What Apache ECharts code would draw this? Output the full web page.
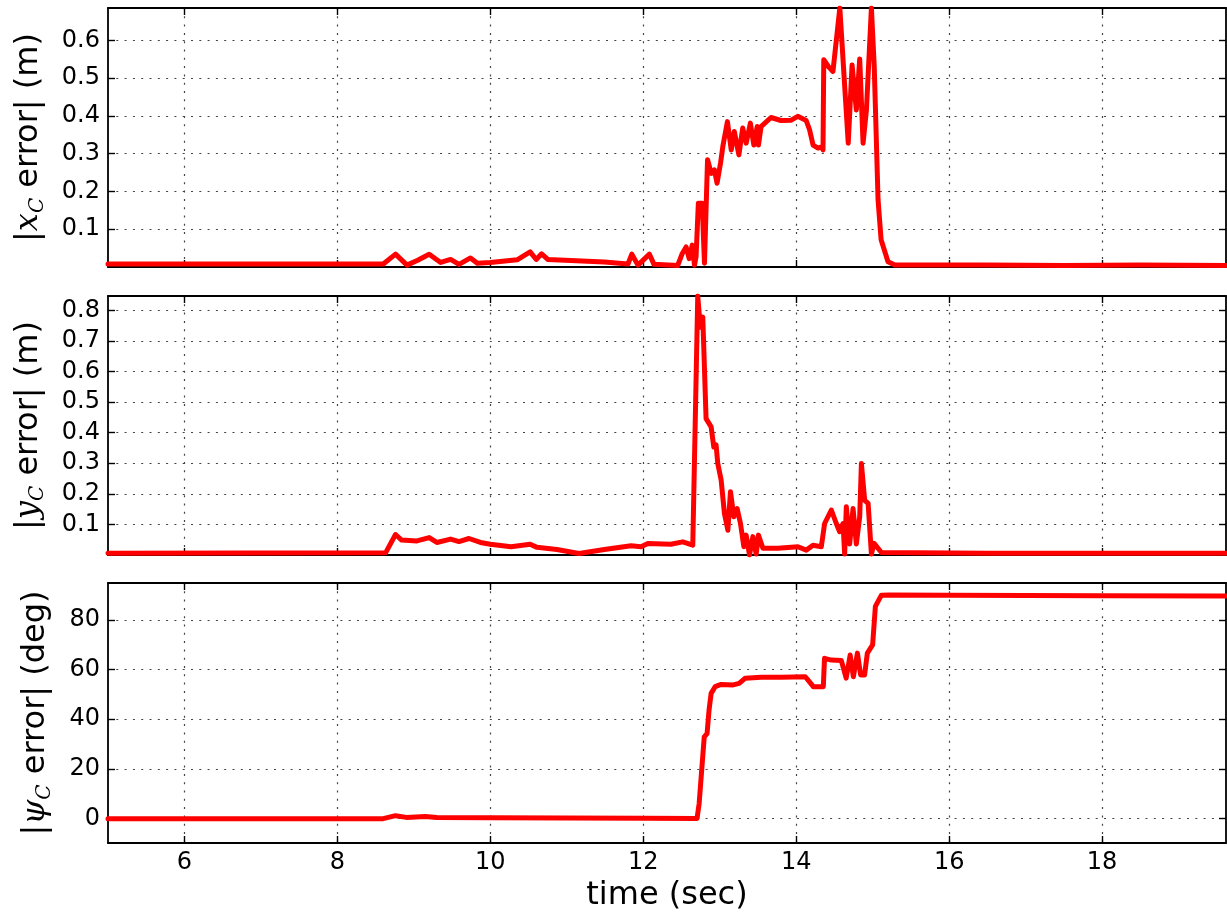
<!DOCTYPE html>
<html><head><meta charset="utf-8">
<script src="https://cdn.jsdelivr.net/npm/echarts@6/dist/echarts.min.js"></script>
<style>html,body{margin:0;padding:0;background:#fff}#c{width:1227px;height:918px}</style>
</head><body><div id="c"></div>
<script>
// ---- data ----
const tX = [5.0, 8.6, 8.76, 8.91, 9.05, 9.2, 9.35, 9.48, 9.59, 9.74, 9.83, 10.0, 10.35, 10.52, 10.6, 10.67, 10.75, 11.05, 11.49, 11.8, 11.85, 11.93, 12.08, 12.14, 12.45, 12.51, 12.56, 12.6, 12.64, 12.67, 12.69, 12.72, 12.77, 12.8, 12.84, 12.89, 12.93, 12.965, 13.01, 13.04, 13.1, 13.15, 13.19, 13.25, 13.3, 13.345, 13.4, 13.446, 13.49, 13.506, 13.54, 13.67, 13.8, 13.935, 14.02, 14.13, 14.175, 14.22, 14.285, 14.33, 14.35, 14.36, 14.42, 14.48, 14.57, 14.68, 14.73, 14.786, 14.83, 14.874, 14.918, 14.983, 15.02, 15.07, 15.11, 15.2, 15.29, 16.5, 17.5, 18.5, 19.62];
const xErr = [0.008, 0.008, 0.034, 0.005, 0.018, 0.034, 0.012, 0.02, 0.007, 0.024, 0.01, 0.012, 0.019, 0.04, 0.02, 0.035, 0.02, 0.017, 0.013, 0.008, 0.034, 0.005, 0.034, 0.007, 0.004, 0.036, 0.053, 0.022, 0.058, 0.005, 0.027, 0.169, 0.169, 0.01, 0.284, 0.248, 0.257, 0.222, 0.275, 0.319, 0.385, 0.31, 0.359, 0.297, 0.368, 0.328, 0.381, 0.323, 0.372, 0.323, 0.372, 0.396, 0.388, 0.389, 0.399, 0.388, 0.363, 0.323, 0.315, 0.318, 0.31, 0.549, 0.531, 0.518, 0.686, 0.328, 0.535, 0.416, 0.551, 0.328, 0.416, 0.686, 0.531, 0.178, 0.072, 0.014, 0.005, 0.005, 0.004, 0.005, 0.004];

const tY = [5.0, 8.63, 8.76, 8.84, 9.04, 9.2, 9.3, 9.48, 9.59, 9.72, 9.87, 10.0, 10.27, 10.52, 10.61, 10.87, 11.16, 11.49, 11.84, 11.97, 12.06, 12.36, 12.516, 12.647, 12.712, 12.746, 12.778, 12.821, 12.887, 12.922, 12.952, 12.974, 13.018, 13.061, 13.106, 13.14, 13.184, 13.227, 13.271, 13.315, 13.345, 13.389, 13.433, 13.476, 13.506, 13.564, 13.76, 14.022, 14.131, 14.219, 14.328, 14.371, 14.459, 14.524, 14.568, 14.612, 14.633, 14.655, 14.699, 14.743, 14.786, 14.83, 14.852, 14.895, 14.94, 14.983, 15.018, 15.114, 16.5, 18.0, 19.62];
const yErr = [0.006, 0.007, 0.067, 0.049, 0.046, 0.057, 0.041, 0.052, 0.044, 0.054, 0.041, 0.035, 0.027, 0.035, 0.025, 0.018, 0.005, 0.018, 0.03, 0.027, 0.038, 0.035, 0.043, 0.032, 0.847, 0.745, 0.778, 0.446, 0.419, 0.353, 0.36, 0.299, 0.245, 0.136, 0.081, 0.207, 0.125, 0.152, 0.103, 0.027, 0.065, 0.0, 0.06, 0.003, 0.065, 0.022, 0.022, 0.027, 0.016, 0.032, 0.027, 0.103, 0.147, 0.103, 0.076, 0.103, 0.003, 0.158, 0.036, 0.152, 0.036, 0.125, 0.299, 0.179, 0.169, 0.003, 0.038, 0.008, 0.006, 0.006, 0.006];

const tPsi = [5.0, 8.6, 8.76, 8.9, 9.15, 9.3, 10.0, 11.0, 12.0, 12.703, 12.73, 12.797, 12.834, 12.86, 12.887, 12.939, 13.018, 13.175, 13.254, 13.333, 13.542, 13.804, 14.118, 14.171, 14.223, 14.354, 14.37, 14.459, 14.59, 14.653, 14.705, 14.747, 14.8, 14.842, 14.894, 14.93, 14.999, 15.035, 15.114, 15.218, 16.0, 17.0, 18.0, 19.62];
const psiErr = [0.0, 0.0, 1.2, 0.5, 0.9, 0.5, 0.4, 0.3, 0.2, 0.1, 6.0, 32.9, 34.2, 43.7, 50.4, 53.1, 54.0, 53.8, 54.4, 56.5, 56.9, 56.9, 57.1, 55.1, 53.1, 53.1, 64.5, 63.8, 63.6, 56.5, 65.8, 57.1, 66.6, 57.8, 57.8, 66.6, 69.9, 85.4, 89.9, 90.0, 89.9, 89.8, 89.7, 89.6];

const timeTicks = [6, 8, 10, 12, 14, 16, 18];
const xErrTicks = [0.1, 0.2, 0.3, 0.4, 0.5, 0.6];
const yErrTicks = [0.1, 0.2, 0.3, 0.4, 0.5, 0.6, 0.7, 0.8];
const psiTicks = [0, 20, 40, 60, 80];
const timeName = 'time (sec)';
const yNames = ['{n||}{m|x}{s|C}{n| error| (m)}', '{n||}{m|y}{s|C}{n| error| (m)}', '{n||}{m|ψ}{s|C}{n| error| (deg)}'];

// ---- layout ----
const FONT = 'DejaVu Sans';
const grids = [
  {left: 108, top: 8, width: 1118, height: 259},
  {left: 108, top: 296, width: 1118, height: 259},
  {left: 108, top: 583, width: 1118, height: 260}
];
const yRanges = [[0, 0.686, xErrTicks, 1], [0, 0.847, yErrTicks, 1], [-9.8, 94.8, psiTicks, 0]];
const nameGaps = [60, 60, 53];
const frame = {show: true, onZero: false, lineStyle: {color: '#000', width: 1.8}};
const tick = (vals) => ({show: true, inside: true, length: 7, customValues: vals, lineStyle: {color: '#000', width: 1.4}});
const split = {show: true, lineStyle: {color: '#444', width: 1.2, type: [2, 6.3]}};
const rich = {
  n: {fontFamily: FONT, fontSize: 32, color: '#000', lineHeight: 38, verticalAlign: 'middle'},
  m: {fontFamily: 'DejaVu Serif', fontStyle: 'italic', fontSize: 32, color: '#000', lineHeight: 38, verticalAlign: 'middle'},
  s: {fontFamily: 'DejaVu Serif', fontStyle: 'italic', fontSize: 20, color: '#000', lineHeight: 20, verticalAlign: 'bottom'}
};

const xAxis = [], yAxis = [], series = [];
const sets = [[tX, xErr], [tY, yErr], [tPsi, psiErr]];
grids.forEach((g, i) => {
  const last = i === 2;
  xAxis.push({type: 'value', gridIndex: i, min: 5, max: 19.62, position: 'bottom',
    axisLine: frame, axisTick: tick(timeTicks), splitLine: split,
    axisLabel: {show: last, customValues: timeTicks, fontFamily: FONT, fontSize: 24, color: '#000', margin: 8},
    name: last ? timeName : '', nameLocation: 'middle', nameGap: 37,
    nameTextStyle: {fontFamily: FONT, fontSize: 32, color: '#000'}});
  xAxis.push({type: 'value', gridIndex: i, min: 5, max: 19.62, position: 'top',
    axisLine: frame, axisTick: tick(timeTicks), splitLine: {show: false}, axisLabel: {show: false}});
  const [mn, mx, tv, dec] = yRanges[i];
  yAxis.push({type: 'value', gridIndex: i, min: mn, max: mx, position: 'left',
    axisLine: frame, axisTick: tick(tv), splitLine: split,
    axisLabel: {customValues: tv, fontFamily: FONT, fontSize: 24, color: '#000', margin: 8,
      formatter: v => v.toFixed(dec)},
    name: yNames[i], nameLocation: 'middle', nameGap: nameGaps[i],
    nameTextStyle: {fontFamily: FONT, fontSize: 32, color: '#000', rich: rich}});
  yAxis.push({type: 'value', gridIndex: i, min: mn, max: mx, position: 'right',
    axisLine: frame, axisTick: tick(tv), splitLine: {show: false}, axisLabel: {show: false}});
  const [ts, vs] = sets[i];
  series.push({type: 'line', xAxisIndex: 2 * i, yAxisIndex: 2 * i, data: ts.map((t, k) => [t, vs[k]]),
    showSymbol: false, symbol: 'none', clip: true,
    lineStyle: {color: '#ff0000', width: 5, join: 'round', cap: 'round'}});
});

const chart = echarts.init(document.getElementById('c'), null, {renderer: 'canvas'});
chart.setOption({animation: false, backgroundColor: '#fff', grid: grids, xAxis, yAxis, series});
</script>
</body></html>
